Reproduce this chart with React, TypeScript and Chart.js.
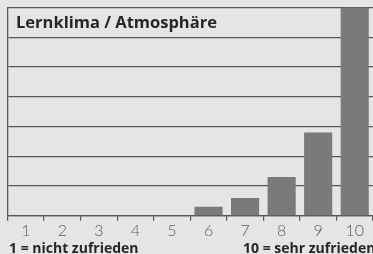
import React, { useEffect, useRef } from "react";
import { Chart, registerables } from "chart.js";

Chart.register(...registerables);

const categories = ["1", "2", "3", "4", "5", "6", "7", "8", "9", "10"];
const values = [0, 0, 0, 0, 0, 3, 6, 13, 28, 70];
const yMax = 70;
const yStep = 10;
const title = "Lernklima / Atmosphäre";
const leftNote = "1 = nicht zufrieden";
const rightNote = "10 = sehr zufrieden";

const BG = "#e5e5e3";
const LINE = "#575757";
const BAR = "#7a7a7a";

const textPlugin = {
  id: "textPlugin",
  afterDraw(chart: any) {
    const { ctx, chartArea } = chart;
    ctx.save();
    ctx.fillStyle = "#262626";
    ctx.textBaseline = "alphabetic";
    ctx.textAlign = "left";
    ctx.font = "bold 16.5px 'Open Sans'";
    ctx.fillText(title, chartArea.left + 8.5, chartArea.top + 20.5);
    ctx.font = "bold 14px 'Open Sans'";
    ctx.fillText(leftNote, 9, 252.5);
    ctx.fillText(rightNote, 243, 252.5);
    ctx.restore();
  },
};

export default function App() {
  const ref = useRef<HTMLCanvasElement | null>(null);
  useEffect(() => {
    document.body.style.margin = "0";
    const chart = new Chart(ref.current as HTMLCanvasElement, {
      type: "bar",
      data: {
        labels: categories,
        datasets: [
          {
            data: values,
            backgroundColor: BAR,
            borderWidth: 0,
            barPercentage: 0.77,
            categoryPercentage: 1,
          },
        ],
      },
      options: {
        responsive: false,
        animation: false,
        layout: { padding: { left: 7.5, top: 7.5, right: 0, bottom: 14 } },
        plugins: {
          legend: { display: false },
          tooltip: { enabled: false },
          title: { display: false },
        },
        scales: {
          x: {
            offset: true,
            grid: {
              display: true,
              drawOnChartArea: false,
              drawTicks: true,
              tickLength: 5,
              color: LINE,
              lineWidth: 1.2,
              offset: true,
            },
            border: { display: true, color: LINE, width: 1.3 },
            ticks: {
              color: "#5c5c5c",
              padding: 0,
              font: { family: "Lato", size: 16, weight: "300" as any },
              maxRotation: 0,
              autoSkip: false,
            },
          },
          y: {
            min: 0,
            max: yMax,
            ticks: { display: false, stepSize: yStep },
            grid: { color: LINE, lineWidth: 1.2, drawTicks: false },
            border: { display: true, color: LINE, width: 1.3 },
            afterFit: (scale: any) => {
              scale.width = 0;
            },
          },
        },
      },
      plugins: [textPlugin],
    });
    return () => chart.destroy();
  }, []);
  return (
    <div style={{ width: 373, height: 254, background: BG }}>
      <canvas ref={ref} width={373} height={254} style={{ display: "block" }} />
    </div>
  );
}
